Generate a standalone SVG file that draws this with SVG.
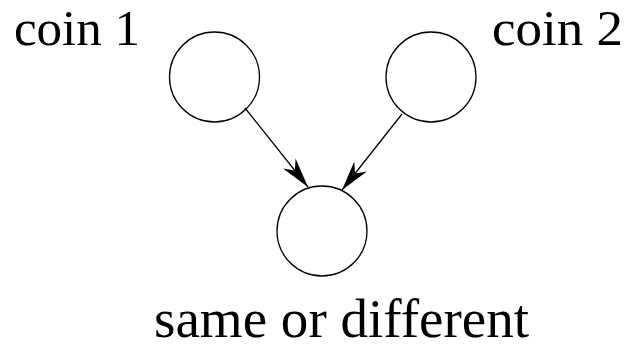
<svg xmlns="http://www.w3.org/2000/svg" width="631" height="344" viewBox="0 0 631 344">
<defs>
<style>
.node circle{fill:#fff;stroke:#000;stroke-width:1.3}
.lbl{font-family:"Liberation Serif","Times New Roman",serif;fill:#000}
.edge{stroke:#000;stroke-width:1.3;fill:none}
</style>
<marker id="ah" markerUnits="userSpaceOnUse" markerWidth="40" markerHeight="24" viewBox="-32 -12 34 24" refX="0" refY="0" orient="auto">
<path d="M0,0 L-30,-8 L-21,0 L-30,8 Z" fill="#000"/>
</marker>
</defs>
<rect width="631" height="344" fill="#fff"/>
<g id="coin1" class="node">
<circle cx="214.5" cy="77" r="45"/>
<text class="lbl" x="14" y="45" font-size="50" textLength="126" lengthAdjust="spacingAndGlyphs">coin 1</text>
</g>
<g id="coin2" class="node">
<circle cx="431" cy="77" r="45"/>
<text class="lbl" x="492" y="45" font-size="50" textLength="131" lengthAdjust="spacingAndGlyphs">coin 2</text>
</g>
<g id="result" class="node">
<circle cx="322" cy="231" r="45"/>
<text class="lbl" x="154" y="337" font-size="54" textLength="375" lengthAdjust="spacingAndGlyphs">same or different</text>
</g>
<g id="connectors">
<line class="edge" x1="245" y1="108" x2="308" y2="187" marker-end="url(#ah)"/>
<line class="edge" x1="402" y1="114" x2="342" y2="190" marker-end="url(#ah)"/>
</g>
</svg>
